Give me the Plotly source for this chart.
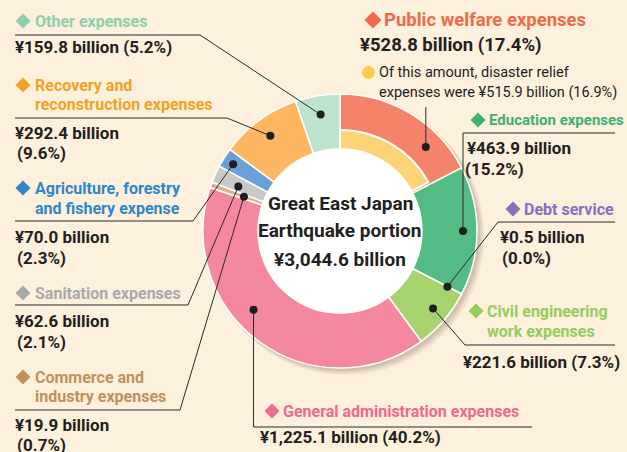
import math
import plotly.graph_objects as go

# ---------------- data ----------------
categories = ["Public welfare expenses", "Education expenses", "Debt service",
              "Civil engineering work expenses", "General administration expenses",
              "Commerce and industry expenses", "Sanitation expenses",
              "Agriculture, forestry and fishery expense",
              "Recovery and reconstruction expenses", "Other expenses"]
values = [528.8, 463.9, 0.5, 221.6, 1225.1, 19.9, 62.6, 70.0, 292.4, 159.8]
percents = ["17.4", "15.2", "0.0", "7.3", "40.2", "0.7", "2.1", "2.3", "9.6", "5.2"]
relief_value = 515.9
relief_percent = "16.9"
total_value = 3044.6

colors = ["#F4836A", "#52BC84", "#8A6FBF", "#A6D36E", "#F4889F",
          "#D8B088", "#C9C9C9", "#6A9FD8", "#FDB762", "#BEE3CD"]
title_colors = ["#F06A4A", "#3DB072", "#8A6FBF", "#95CC5C", "#EE6A8E",
                "#C0905A", "#A9A9A9", "#2F86C8", "#F5A124", "#8DCFA8"]

# ---------------- layout constants (pixels) ----------------
W, H = 627, 452
CX, CY, R = 340, 231, 137
R_HOLE = 82
R_RELIEF = 101
BG = "#FDF0DC"
FONT = "Roboto, Liberation Sans, sans-serif"


def px(x):
    return x / W


def py(y):
    return 1 - y / H


fig = go.Figure()

fig.add_trace(go.Pie(
    values=values, labels=categories, sort=False, direction="clockwise",
    hole=R_HOLE / R, textinfo="none", hoverinfo="skip", showlegend=False,
    marker=dict(colors=colors, line=dict(color="white", width=1.5)),
    domain=dict(x=[px(CX - R), px(CX + R)], y=[py(CY + R), py(CY - R)]),
))
fig.add_trace(go.Pie(
    values=[relief_value, total_value - relief_value], labels=["relief", "rest"],
    sort=False, direction="clockwise", hole=R_HOLE / R_RELIEF,
    textinfo="none", hoverinfo="skip", showlegend=False,
    marker=dict(colors=["#FDD475", "rgba(0,0,0,0)"],
                line=dict(color=["white", "rgba(0,0,0,0)"], width=2)),
    domain=dict(x=[px(CX - R_RELIEF), px(CX + R_RELIEF)],
                y=[py(CY + R_RELIEF), py(CY - R_RELIEF)]),
))

shapes = []
# drop shadow + white centre
for off, rr, op in [(5, R + 2, 0.10), (4, R + 1, 0.12), (3, R, 0.14)]:
    shapes.append(dict(type="circle", xref="paper", yref="paper", layer="below",
                       x0=px(CX - rr + off), x1=px(CX + rr + off),
                       y0=py(CY + rr + off), y1=py(CY - rr + off),
                       fillcolor=f"rgba(120,95,70,{op})", line=dict(width=0)))
shapes.append(dict(type="circle", xref="paper", yref="paper", layer="below",
                   x0=px(CX - R_HOLE), x1=px(CX + R_HOLE),
                   y0=py(CY + R_HOLE), y1=py(CY - R_HOLE),
                   fillcolor="white", line=dict(width=0)))

# dot positions derived from slice angles
dot_frac = [0.73, 0.5, 0.5, 0.47, 0.58, 0.5, 0.38, 0.45, 0.5, 0.5]
dot_r = [120, 123, 121, 121, 117, 102, 111, 126, 118, 118]
cum = 0.0
dots = []
for v, f, rr in zip(values, dot_frac, dot_r):
    ang = (cum + f * v) / total_value * 2 * math.pi
    dots.append((CX + rr * math.sin(ang), CY - rr * math.cos(ang)))
    cum += v

# leader-line anchors (label side)
leaders = [
    [("v", 107)],                       # public welfare
    [("v", 133), (615, 133)],           # education
    [(498, 222), (615, 222)],           # debt
    [(465, 345), (615, 345)],           # civil
    [("v", 427), (532, 427)],           # general admin
    [(180, 410), (15, 410)],            # commerce
    [(188, 305), (15, 305)],            # sanitation
    [(193, 221), (15, 221)],            # agriculture
    [(227, 118), (15, 118)],            # recovery
    [(200, 35), (15, 35)],              # other
]
for (dx, dy), pts in zip(dots, leaders):
    path = f"M{px(dx)},{py(dy)}"
    for p in pts:
        if p[0] == "v":
            path += f" L{px(dx)},{py(p[1])}"
        else:
            path += f" L{px(p[0])},{py(p[1])}"
    shapes.append(dict(type="path", xref="paper", yref="paper", layer="above",
                       path=path, line=dict(color="#2A2A2A", width=1)))
for dx, dy in dots:
    shapes.append(dict(type="circle", xref="paper", yref="paper", layer="above",
                       x0=px(dx - 4), x1=px(dx + 4), y0=py(dy + 4), y1=py(dy - 4),
                       fillcolor="#1E1E1E", line=dict(width=0)))


def diamond(x, y, color, s=7.5):
    shapes.append(dict(type="path", xref="paper", yref="paper", layer="above",
                       path=f"M{px(x - s)},{py(y)} L{px(x)},{py(y - s)} "
                            f"L{px(x + s)},{py(y)} L{px(x)},{py(y + s)} Z",
                       fillcolor=color, line=dict(width=0)))


annotations = []


def txt(x, y, text, color="#231F20", size=17, bold=True, anchor="left"):
    annotations.append(dict(x=px(x), y=py(y), xref="paper", yref="paper",
                            text=text, showarrow=False, xanchor=anchor, yanchor="middle",
                            font=dict(family=FONT, size=size, color=color,
                                      weight="bold" if bold else "normal")))


def val(i):
    return f"¥{values[i]:,.1f} billion"


def pct(i):
    return f"({percents[i]}%)"


CAT = 16
VAL = 17
# Public welfare
diamond(373, 20, title_colors[0], 8.5)
txt(382, 20, categories[0], title_colors[0], 18.5)
txt(358, 45, val(0) + " " + pct(0), size=18.5)
shapes.append(dict(type="circle", xref="paper", yref="paper", layer="above",
                   x0=px(362), x1=px(375), y0=py(79), y1=py(66),
                   fillcolor="#FDCB4E", line=dict(width=0)))
txt(377, 73, "Of this amount, disaster relief", "#231F20", 14.5, bold=False)
txt(377, 93, f"expenses were ¥{relief_value:,.1f} billion ({relief_percent}%)", "#231F20", 14.5, bold=False)
# Education
diamond(478, 120, title_colors[1])
txt(487, 120, categories[1], title_colors[1], 15)
txt(465, 148, val(1), size=VAL)
txt(463, 169, pct(1), size=VAL)
# Debt
diamond(513, 209, title_colors[2])
txt(522, 209, categories[2], title_colors[2], CAT)
txt(498, 237, val(2), size=VAL)
txt(500, 258, pct(2), size=VAL)
# Civil
diamond(476, 311, title_colors[3])
txt(485, 311, "Civil engineering", title_colors[3], CAT)
txt(485, 331, "work expenses", title_colors[3], CAT)
txt(461, 362, val(3) + " " + pct(3), size=VAL)
# General administration
diamond(272, 411, title_colors[4])
txt(281, 411, categories[4], title_colors[4], CAT)
txt(258, 437, val(4) + " " + pct(4), size=VAL)
# Commerce
diamond(23, 377, title_colors[5])
txt(33, 377, "Commerce and", title_colors[5], CAT)
txt(33, 396, "industry expenses", title_colors[5], CAT)
txt(13, 425, val(5), size=VAL)
txt(15, 445, pct(5), size=VAL)
# Sanitation
diamond(23, 293, title_colors[6])
txt(33, 293, categories[6], title_colors[6], CAT)
txt(13, 321, val(6), size=VAL)
txt(15, 342, pct(6), size=VAL)
# Agriculture
diamond(23, 188, title_colors[7])
txt(33, 188, "Agriculture, forestry", title_colors[7], CAT)
txt(33, 208, "and fishery expense", title_colors[7], CAT)
txt(13, 237, val(7), size=VAL)
txt(15, 258, pct(7), size=VAL)
# Recovery
diamond(23, 85, title_colors[8])
txt(33, 85, "Recovery and", title_colors[8], CAT)
txt(33, 104, "reconstruction expenses", title_colors[8], CAT)
txt(13, 133, val(8), size=VAL)
txt(15, 153, pct(8), size=VAL)
# Other
diamond(23, 21, title_colors[9])
txt(33, 21, categories[9], title_colors[9], CAT)
txt(13, 47, val(9) + " " + pct(9), size=VAL)
# Centre
txt(CX, 203, "Great East Japan", size=19, anchor="center")
txt(CX, 231, "Earthquake portion", size=19, anchor="center")
txt(CX, 259, f"¥{total_value:,.1f} billion", size=19, anchor="center")

fig.update_layout(
    width=W, height=H, margin=dict(l=0, r=0, t=0, b=0),
    paper_bgcolor=BG, plot_bgcolor=BG,
    shapes=shapes, annotations=annotations, showlegend=False,
)
fig.write_html("out.html", config={"displayModeBar": False},
               post_script="document.body.style.margin='0px';"
                           f"document.body.style.background='{BG}';")
